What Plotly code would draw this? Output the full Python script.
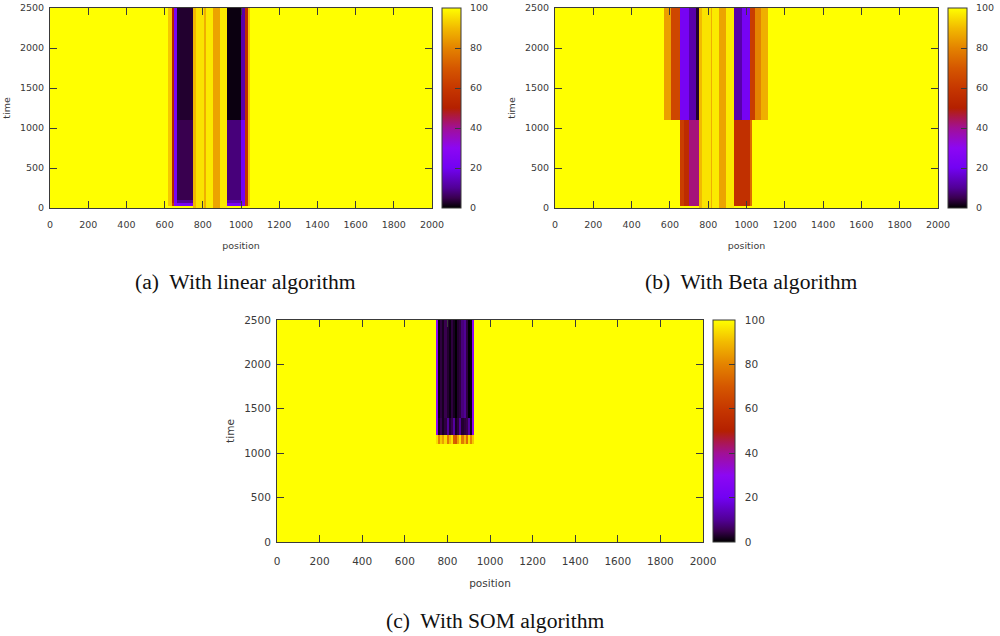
# %%
# Three occupancy heatmaps (linear / Beta / SOM)
import plotly.graph_objects as go

# %% Data
# Panel (a) : linear
pos_a = [0, 620, 637, 649, 666, 747, 765, 807, 817, 853, 890, 928, 998, 1021, 1038, 1048, 2000]
time_a = [0, 20, 60, 100, 1100, 2500]
z_a = [
    [100, 100, 100, 100, 100, 90, 96, 88, 97, 86, 97, 100, 100, 100, 100, 100],
    [100, 92, 60, 25, 22, 90, 96, 88, 97, 86, 97, 22, 25, 60, 92, 100],
    [100, 92, 50, 22, 10, 90, 96, 88, 97, 86, 97, 13, 22, 60, 92, 100],
    [100, 92, 50, 22, 5, 90, 96, 88, 97, 86, 97, 8, 20, 58, 92, 100],
    [100, 92, 50, 22, 3, 90, 96, 88, 97, 86, 97, 1, 12, 55, 92, 100],
]

# Panel (b) : Beta
pos_b = [0, 567, 605, 652, 672, 700, 737, 752, 770, 812, 822, 858, 895, 935, 974, 1017, 1030, 1043, 1075, 1110, 2000]
time_b = [0, 20, 1100, 2500]
z_b = [
    [100, 100, 100, 100, 100, 100, 100, 90, 96, 88, 97, 86, 97, 100, 100, 100, 100, 100, 100, 100],
    [100, 100, 100, 62, 55, 42, 42, 90, 96, 88, 97, 86, 97, 57, 57, 75, 100, 100, 100, 100],
    [100, 85, 65, 22, 22, 12, 3, 90, 96, 88, 97, 86, 97, 12, 22, 62, 62, 80, 88, 100],
]

# Panel (c) : SOM
pos_c = [0, 746, 756, 766, 776, 786, 796, 806, 816, 826, 836, 846, 856, 866, 876, 886, 896, 906, 916, 926, 2000]
time_c = [0, 1100, 1200, 1400, 2500]
z_c = [
    [100] * 20,
    [100, 95, 80, 92, 85, 95, 78, 90, 96, 72, 70, 85, 96, 78, 90, 75, 95, 80, 92, 100],
    [100, 30, 2, 5, 2, 4, 10, 3, 5, 11, 2, 4, 10, 3, 4, 5, 11, 2, 30, 100],
    [100, 30, 1, 4, 2, 5, 3, 1, 4, 2, 0, 3, 4, 8, 10, 4, 0, 1, 30, 100],
]

x_ticks = list(range(0, 2001, 200))
y_ticks = list(range(0, 2501, 500))
bar_ticks = list(range(0, 101, 20))

captions = ["(a)  With linear algorithm", "(b)  With Beta algorithm", "(c)  With SOM algorithm"]

# gnuplot default palette (rgbformulae 7,5,15)
palette = [
    [0.0, "#000000"], [0.05, "#39004f"], [0.1, "#510096"], [0.2, "#7202f3"],
    [0.3, "#8c07f3"], [0.4, "#a11096"], [0.45, "#ab174f"], [0.5, "#b42000"],
    [0.6, "#c63700"], [0.7, "#d55700"], [0.8, "#e48300"], [0.9, "#f2ba00"],
    [1.0, "#ffff00"],
]

W, H = 1000, 636
GREY = "#3a3a3a"

# pixel boxes : left, right, top, bottom, bar left, bar right, font size, x-label standoff, title standoff
boxes = [
    (50, 432, 8, 208, 442, 461, 9.5, 8, 12),
    (555, 938, 8, 208, 948, 967, 9.5, 8, 12),
    (277, 703, 320, 542, 713, 735, 10.5, 9, 14),
]
panels = [(pos_a, time_a, z_a), (pos_b, time_b, z_b), (pos_c, time_c, z_c)]

# %% Figure
fig = go.Figure()

for i, ((xs, ts, zs), box) in enumerate(zip(panels, boxes), 1):
    l, r, t, b, bl, br, fs, lab_off, tit_off = box
    fig.add_trace(go.Heatmap(
        x=xs, y=ts, z=zs,
        xaxis=f"x{i}", yaxis=f"y{i}",
        zmin=0, zmax=100,
        colorscale=palette,
        hoverinfo="skip",
        colorbar=dict(
            x=bl / W, xanchor="left", xpad=0,
            y=1 - t / H, yanchor="top", ypad=0,
            len=(b - t) / H, lenmode="fraction",
            thickness=br - bl, thicknessmode="pixels",
            outlinecolor=GREY, outlinewidth=1,
            tickmode="array", tickvals=bar_ticks,
            ticktext=[f"\u2007{v}" for v in bar_ticks],  # pushes the labels off the bar
            ticks="inside", ticklen=6,
            tickcolor=GREY, tickfont=dict(size=fs, color=GREY),
        ),
    ))
    common = dict(
        showgrid=False, zeroline=False, showline=True, linecolor=GREY, linewidth=1,
        mirror="ticks", ticks="inside", ticklen=7, tickcolor=GREY,
        tickfont=dict(size=fs, color=GREY), layer="above traces",
    )
    fig.update_layout({
        f"xaxis{i}": dict(
            common, domain=[l / W, r / W], anchor=f"y{i}", range=[0, 2000],
            tickvals=x_ticks, ticklabelstandoff=lab_off,
            title=dict(text="position", font=dict(size=fs, color=GREY), standoff=tit_off),
        ),
        f"yaxis{i}": dict(
            common, domain=[1 - b / H, 1 - t / H], anchor=f"x{i}", range=[0, 2500],
            tickvals=y_ticks, ticklabelstandoff=3,
            title=dict(text="time", font=dict(size=fs, color=GREY), standoff=7),
        ),
    })

# Sub-figure captions
caption_pos = [(245, 282), (750.5, 282), (495, 621)]
for text, (cx, cy) in zip(captions, caption_pos):
    fig.add_annotation(
        text=text, xref="paper", yref="paper", x=cx / W, y=1 - cy / H,
        showarrow=False, xanchor="center", yanchor="middle",
        font=dict(family="Liberation Serif", size=21.6, color="#111111"),
    )

fig.update_layout(
    width=W, height=H,
    margin=dict(l=0, r=0, t=0, b=0, autoexpand=False),
    paper_bgcolor="white", plot_bgcolor="white",
    font=dict(family="DejaVu Sans"),
    showlegend=False,
)

fig.write_html("out.html", config=dict(displayModeBar=False),
               post_script="document.body.style.margin='0';")
